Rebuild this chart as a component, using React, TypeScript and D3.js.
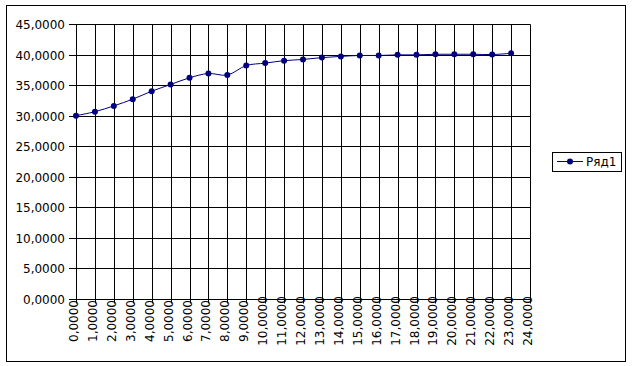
import React from "react";
import * as d3 from "d3";

const xValues = [0, 1, 2, 3, 4, 5, 6, 7, 8, 9, 10, 11, 12, 13, 14, 15, 16, 17, 18, 19, 20, 21, 22, 23];
const seriesValues = [30.0, 30.65, 31.6, 32.7, 34.0, 35.1, 36.2, 36.9, 36.65, 38.2, 38.6, 39.0, 39.2, 39.5, 39.7, 39.85, 39.85, 39.95, 39.95, 40.05, 40.05, 40.05, 40.0, 40.2];
const xTicks = d3.range(0, 25, 1);
const yTicks = [0, 5, 10, 15, 20, 25, 30, 35, 40, 45];
const seriesName = "Ряд1";

const W = 632;
const H = 366;
const fmt = (v: number) => v.toFixed(4).replace(".", ",");

export default function App() {
  const x = d3.scaleLinear().domain([0, 24]).range([76, 530]);
  const y = d3.scaleLinear().domain([0, 45]).range([299, 24]);
  const px = (v: number) => Math.round(x(v)) + 0.5;
  const py = (v: number) => Math.round(y(v)) + 0.5;
  const pts: [number, number][] = xValues.map((xv, i) => [x(xv), y(seriesValues[i])]);
  const line = d3.line().curve(d3.curveCatmullRom.alpha(0.5))(pts) || "";
  const navy = "#000080";
  const font = "DejaVu Sans, Verdana, sans-serif";
  return (
    <svg
      width={W}
      height={H}
      style={{ position: "fixed", left: 0, top: 0, background: "#fff" }}
      fontFamily={font}
    >
      <rect x={0} y={0} width={W} height={H} fill="#fff" />
      <rect x={6.5} y={5.5} width={619} height={356} fill="none" stroke="#000" strokeWidth={1} />
      {/* horizontal gridlines + y ticks */}
      {yTicks.map((t) => (
        <g key={"y" + t}>
          <line x1={69} x2={px(24)} y1={py(t)} y2={py(t)} stroke="#000" strokeWidth={1} />
          <text x={65} y={py(t)} dy="0.35em" textAnchor="end" fontSize={12} fill="#000">
            {fmt(t)}
          </text>
        </g>
      ))}
      {/* vertical gridlines + x labels */}
      {xTicks.map((t) => (
        <g key={"x" + t}>
          <line x1={px(t)} x2={px(t)} y1={py(45)} y2={py(0) + 4} stroke="#000" strokeWidth={1} />
          <text
            transform={`translate(${px(t) - 2.5},${321}) rotate(-90)`}
            textAnchor="middle"
            dy="0.36em"
            fontSize={12}
            fill="#000"
          >
            {fmt(t)}
          </text>
        </g>
      ))}
      <path d={line} fill="none" stroke={navy} strokeWidth={1} />
      {pts.map((p, i) => (
        <circle key={i} cx={p[0]} cy={p[1]} r={3} fill={navy} />
      ))}
      {/* legend */}
      <rect x={552.5} y={152.5} width={69} height={19} fill="#fff" stroke="#000" strokeWidth={1} />
      <line x1={557} x2={583} y1={161.5} y2={161.5} stroke={navy} strokeWidth={1} />
      <circle cx={570} cy={161.5} r={3} fill={navy} />
      <text x={586} y={166} fontSize={12} fill="#000">
        {seriesName}
      </text>
    </svg>
  );
}
